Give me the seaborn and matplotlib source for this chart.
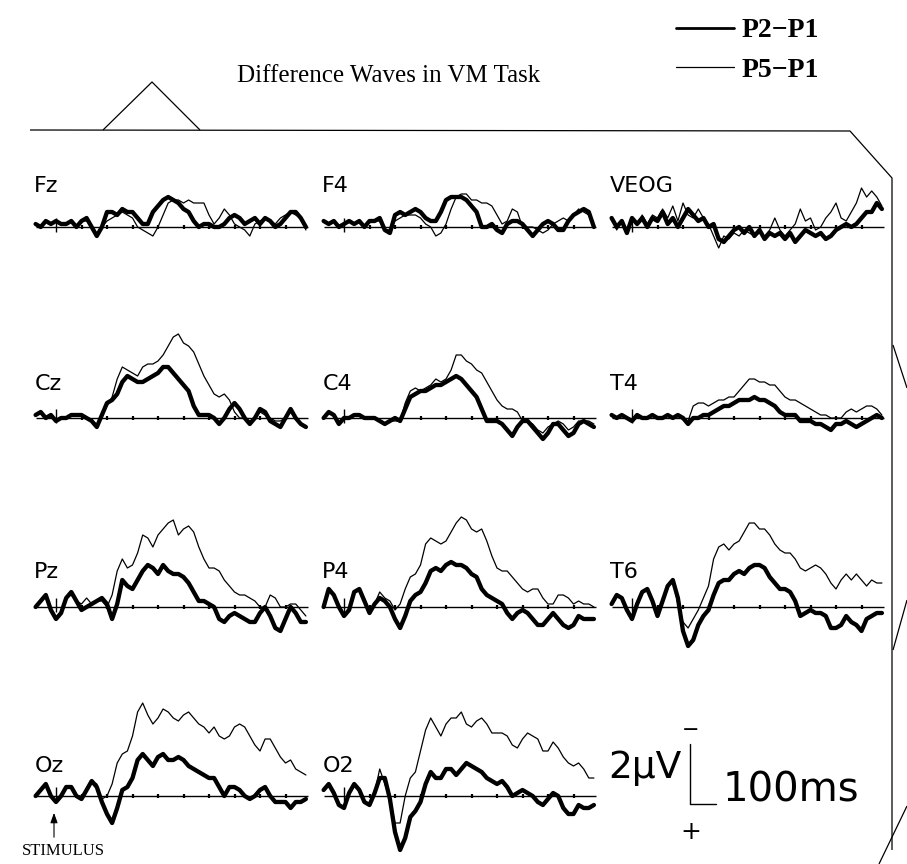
import numpy as np
import pandas as pd
import matplotlib
matplotlib.use("Agg")
import matplotlib.pyplot as plt
import seaborn as sns
from matplotlib.lines import Line2D

# ---------------- data (µV, negative plotted upward) ----------------
times = list(range(-80, 981, 20))          # ms, 54 samples
tick_times = [100, 200, 300, 400, 500, 600, 700, 800, 900]
channels = [["Fz", "F4", "VEOG"], ["Cz", "C4", "T4"], ["Pz", "P4", "T6"], ["Oz", "O2", None]]
series_names = ["P2\u2212P1", "P5\u2212P1"]

fz_p2 = [-0.1, 0.0, -0.2, -0.1, -0.2, -0.1, -0.1, -0.2, 0.0, -0.2,
         -0.3, 0.0, 0.3, 0.0, -0.5, -0.5, -0.4, -0.6, -0.5, -0.5,
         -0.3, -0.1, -0.1, -0.5, -0.7, -0.9, -1.0, -0.9, -0.8, -0.6,
         -0.5, -0.2, 0.0, -0.1, -0.1, 0.0, 0.0, -0.1, -0.3, -0.4,
         -0.3, -0.1, -0.2, -0.3, -0.1, -0.3, -0.2, 0.0, -0.1, -0.3,
         -0.5, -0.5, -0.3, 0.0]
fz_p5 = [-0.1, 0.0, -0.2, -0.1, -0.2, -0.1, -0.1, -0.2, 0.0, -0.2,
         -0.2, 0.0, 0.2, 0.0, -0.2, -0.3, -0.4, -0.5, -0.4, -0.3,
         0.0, 0.1, 0.2, 0.3, 0.0, -0.4, -0.8, -0.9, -0.9, -0.8,
         -0.9, -0.8, -0.8, -0.8, -0.4, -0.1, -0.3, -0.6, -0.4, -0.1,
         0.0, 0.1, 0.3, -0.1, -0.2, -0.3, -0.2, -0.1, -0.3, -0.4,
         -0.5, -0.4, -0.3, 0.1]

f4_p2 = [-0.2, -0.1, -0.2, 0.0, -0.1, -0.2, -0.1, -0.2, 0.0, -0.2,
         -0.2, -0.3, 0.1, 0.2, -0.4, -0.5, -0.4, -0.5, -0.6, -0.5,
         -0.3, -0.2, -0.2, -0.5, -0.9, -1.0, -1.0, -1.0, -0.9, -0.7,
         -0.5, 0.0, 0.0, -0.1, 0.1, 0.2, -0.1, -0.2, -0.2, -0.1,
         0.1, 0.3, 0.1, -0.1, -0.2, -0.1, 0.1, 0.1, -0.2, -0.4,
         -0.5, -0.6, -0.5, 0.0]
f4_p5 = [-0.2, -0.1, -0.2, 0.0, -0.1, -0.2, -0.1, -0.2, 0.0, -0.2,
         -0.2, -0.2, 0.1, 0.1, -0.2, -0.3, -0.4, -0.4, -0.4, -0.3,
         -0.1, 0.0, 0.3, 0.2, -0.1, -0.6, -1.0, -1.1, -1.1, -0.9,
         -0.9, -0.8, -0.8, -0.7, -0.4, -0.1, -0.2, -0.6, -0.5, 0.0,
         0.0, 0.0, 0.1, 0.2, 0.1, -0.1, -0.2, -0.3, -0.2, -0.4,
         -0.6, -0.5, -0.4, 0.0]

veog_p2 = [-0.3, 0.0, -0.2, 0.2, -0.3, -0.1, -0.3, 0.0, -0.3, -0.2,
           -0.5, -0.1, -0.3, 0.0, -0.3, -0.6, -0.4, -0.2, -0.3, 0.0,
           -0.1, 0.4, 0.5, 0.3, 0.1, 0.0, 0.2, 0.0, 0.3, 0.1,
           0.4, 0.2, 0.3, 0.2, 0.4, 0.2, 0.5, 0.3, 0.1, 0.2,
           0.3, 0.2, 0.4, 0.3, 0.1, 0.0, -0.1, 0.0, -0.1, -0.3,
           -0.5, -0.5, -0.8, -0.6]
veog_p5 = [-0.3, 0.1, -0.2, 0.2, -0.3, -0.1, -0.4, -0.1, -0.4, -0.3,
           -0.6, -0.3, -0.7, -0.2, -0.8, -0.4, -0.3, -0.6, -0.3, -0.1,
           0.3, 0.7, 0.3, 0.4, 0.2, 0.3, 0.1, 0.2, 0.3, 0.2,
           0.3, 0.1, -0.3, 0.1, 0.3, 0.1, -0.1, -0.6, -0.2, -0.3,
           0.1, 0.0, -0.3, -0.5, -0.8, -0.3, -0.2, -0.5, -0.8, -1.3,
           -1.0, -1.2, -1.0, -0.7]

cz_p2 = [-0.1, -0.2, 0.0, -0.1, 0.1, 0.0, 0.0, -0.1, -0.1, -0.1,
         0.0, 0.1, 0.3, -0.1, -0.5, -0.6, -0.8, -1.2, -1.4, -1.3,
         -1.2, -1.2, -1.3, -1.4, -1.5, -1.7, -1.7, -1.5, -1.3, -1.1,
         -0.9, -0.4, -0.1, -0.1, -0.1, 0.0, 0.2, 0.0, -0.3, -0.5,
         -0.3, 0.0, 0.2, 0.0, -0.3, -0.2, 0.1, 0.2, 0.3, 0.0,
         -0.3, 0.0, 0.2, 0.3]
cz_p5 = [-0.1, -0.2, 0.0, -0.1, 0.1, 0.0, 0.0, -0.1, -0.1, -0.1,
         0.0, 0.1, 0.2, -0.1, -0.4, -0.7, -1.3, -1.7, -1.6, -1.5,
         -1.4, -1.7, -1.8, -1.8, -1.9, -2.1, -2.4, -2.7, -2.8, -2.5,
         -2.4, -2.2, -1.8, -1.4, -1.1, -0.8, -0.7, -0.8, -0.6, -0.2,
         0.0, 0.0, 0.1, 0.0, -0.2, -0.1, 0.0, 0.1, 0.1, 0.0,
         -0.2, 0.0, 0.2, 0.3]

c4_p2 = [0.0, -0.2, -0.1, 0.2, 0.0, 0.0, -0.1, -0.1, 0.0, 0.0,
         0.0, 0.1, 0.2, 0.1, 0.0, 0.1, -0.3, -0.7, -0.8, -0.9,
         -0.9, -1.0, -1.1, -1.1, -1.2, -1.3, -1.4, -1.3, -1.1, -0.9,
         -0.7, -0.3, 0.1, 0.1, 0.1, 0.2, 0.4, 0.6, 0.3, 0.1,
         0.1, 0.3, 0.5, 0.7, 0.5, 0.2, 0.2, 0.4, 0.6, 0.5,
         0.2, 0.1, 0.2, 0.3]
c4_p5 = [0.0, -0.2, -0.1, 0.2, 0.0, 0.0, -0.1, -0.1, 0.0, 0.0,
         0.0, 0.1, 0.2, 0.1, 0.1, 0.1, -0.5, -0.9, -1.0, -0.9,
         -1.0, -1.1, -1.3, -1.2, -1.3, -1.6, -2.1, -2.1, -1.9, -1.8,
         -1.6, -1.5, -1.2, -0.9, -0.6, -0.4, -0.3, -0.3, -0.2, 0.1,
         0.1, 0.2, 0.4, 0.5, 0.3, 0.2, 0.1, 0.2, 0.4, 0.3,
         0.1, 0.1, 0.1, 0.2]

t4_p2 = [-0.1, 0.0, -0.1, 0.0, 0.1, -0.1, 0.0, 0.0, -0.1, 0.0,
         0.0, -0.1, 0.0, -0.1, 0.0, 0.2, 0.0, 0.0, -0.1, -0.1,
         -0.2, -0.3, -0.4, -0.4, -0.5, -0.6, -0.6, -0.6, -0.7, -0.6,
         -0.6, -0.5, -0.4, -0.2, -0.1, -0.1, -0.1, 0.1, 0.1, 0.1,
         0.2, 0.2, 0.3, 0.4, 0.2, 0.2, 0.1, 0.2, 0.3, 0.2,
         0.1, 0.0, -0.1, 0.0]
t4_p5 = [-0.1, 0.0, -0.1, 0.0, 0.1, -0.1, 0.0, 0.0, -0.1, 0.0,
         0.0, -0.1, 0.0, -0.1, 0.0, 0.1, -0.4, -0.5, -0.5, -0.4,
         -0.5, -0.6, -0.6, -0.7, -0.7, -0.9, -1.1, -1.3, -1.3, -1.2,
         -1.2, -1.1, -1.1, -0.9, -0.7, -0.6, -0.6, -0.5, -0.4, -0.3,
         -0.2, -0.1, -0.1, 0.0, 0.0, 0.0, -0.2, -0.3, -0.2, -0.3,
         -0.4, -0.4, -0.3, -0.1]

pz_p2 = [0.0, -0.2, -0.4, 0.1, 0.4, 0.2, -0.3, -0.5, -0.2, 0.1,
         0.0, -0.1, -0.2, -0.3, -0.1, 0.4, -0.1, -0.9, -0.7, -0.6,
         -0.9, -1.2, -1.4, -1.3, -1.1, -1.4, -1.2, -1.1, -1.1, -1.0,
         -0.8, -0.5, -0.2, -0.2, -0.1, 0.0, 0.4, 0.5, 0.3, 0.2,
         0.3, 0.4, 0.5, 0.5, 0.2, 0.0, 0.3, 0.7, 0.8, 0.4,
         0.0, 0.2, 0.5, 0.5]
pz_p5 = [0.0, -0.2, -0.4, 0.1, 0.4, 0.2, -0.3, -0.4, -0.2, -0.1,
         -0.3, -0.1, -0.2, -0.2, 0.0, -0.4, -1.2, -1.6, -1.3, -1.4,
         -1.8, -2.4, -2.3, -2.0, -2.4, -2.6, -2.8, -2.9, -2.4, -2.6,
         -2.7, -2.5, -2.0, -1.6, -1.3, -1.3, -1.2, -0.9, -0.7, -0.5,
         -0.4, -0.4, -0.3, -0.2, 0.0, 0.0, -0.4, -0.3, 0.0, 0.0,
         -0.1, -0.1, 0.1, 0.3]

p4_p2 = [0.0, -0.6, -0.4, 0.0, 0.3, 0.1, -0.5, -0.6, -0.2, 0.2,
         -0.1, -0.3, -0.2, 0.0, 0.4, 0.7, 0.3, -0.2, -0.4, -0.5,
         -0.8, -1.2, -1.3, -1.2, -1.4, -1.5, -1.4, -1.4, -1.3, -1.1,
         -1.0, -0.6, -0.4, -0.3, -0.2, -0.1, 0.2, 0.4, 0.2, 0.1,
         0.2, 0.4, 0.6, 0.6, 0.4, 0.2, 0.4, 0.6, 0.7, 0.6,
         0.3, 0.4, 0.4, 0.4]
p4_p5 = [0.0, -0.6, -0.4, 0.0, 0.3, 0.1, -0.5, -0.6, -0.2, 0.2,
         -0.1, -0.5, -0.3, -0.2, 0.1, -0.1, -0.6, -1.0, -1.1, -1.4,
         -2.1, -2.3, -2.2, -2.1, -2.2, -2.5, -2.8, -3.0, -2.9, -2.6,
         -2.5, -2.6, -2.2, -1.7, -1.3, -1.2, -1.2, -1.0, -0.8, -0.6,
         -0.5, -0.6, -0.6, -0.3, -0.1, -0.1, -0.4, -0.4, -0.3, -0.1,
         -0.2, -0.1, -0.1, 0.0]

t6_p2 = [-0.1, -0.4, -0.3, 0.1, 0.4, -0.1, -0.5, -0.6, -0.2, 0.3,
         -0.2, -0.7, -0.9, -0.3, 0.8, 1.3, 1.1, 0.6, 0.3, 0.1,
         -0.4, -0.8, -0.9, -0.9, -1.1, -1.2, -1.1, -1.3, -1.4, -1.4,
         -1.3, -1.0, -0.8, -0.6, -0.6, -0.5, -0.2, 0.3, 0.2, 0.1,
         0.2, 0.2, 0.3, 0.7, 0.7, 0.6, 0.3, 0.5, 0.6, 0.8,
         0.4, 0.3, 0.2, 0.2]
t6_p5 = [-0.1, -0.4, -0.3, 0.1, 0.4, -0.1, -0.5, -0.6, -0.2, 0.3,
         -0.2, -0.7, -0.9, -0.1, 0.5, 0.7, 0.4, 0.1, -0.3, -0.7,
         -1.6, -2.0, -2.1, -1.9, -2.1, -2.2, -2.5, -2.8, -2.8, -2.6,
         -2.6, -2.4, -2.1, -1.9, -1.8, -1.8, -1.6, -1.3, -1.2, -1.3,
         -1.4, -1.3, -1.1, -0.8, -0.6, -0.9, -1.1, -0.9, -1.1, -0.9,
         -0.7, -0.9, -0.8, -0.8]

oz_p2 = [0.0, -0.2, -0.4, 0.0, 0.2, 0.0, -0.3, -0.3, 0.0, 0.1,
         -0.2, -0.5, -0.3, 0.2, 0.6, 0.9, 0.4, -0.2, -0.3, -0.6,
         -1.2, -1.4, -1.2, -1.0, -1.3, -1.4, -1.2, -1.2, -1.3, -1.2,
         -1.0, -0.9, -0.8, -0.7, -0.6, -0.6, -0.3, 0.0, -0.3, -0.3,
         -0.2, 0.0, 0.1, 0.0, -0.2, -0.3, 0.0, 0.2, 0.2, 0.2,
         0.4, 0.2, 0.2, 0.1]
oz_p5 = [0.0, -0.2, -0.4, 0.0, 0.2, 0.0, -0.3, -0.3, 0.0, 0.0,
         -0.2, -0.5, -0.4, 0.1, 0.0, -0.4, -1.1, -1.4, -1.5, -2.0,
         -2.8, -3.1, -2.7, -2.4, -2.6, -2.9, -2.8, -2.6, -2.5, -2.7,
         -2.8, -2.6, -2.4, -2.3, -2.1, -2.3, -2.0, -1.9, -2.0, -2.3,
         -2.4, -2.3, -2.0, -1.7, -1.5, -1.9, -1.9, -1.6, -1.3, -1.1,
         -1.2, -0.9, -0.8, -0.7]

o2_p2 = [-0.2, -0.4, -0.1, 0.3, 0.4, -0.1, -0.4, -0.2, 0.2, 0.3,
         -0.1, -0.6, -0.6, 0.1, 1.2, 1.8, 1.4, 0.7, 0.5, 0.2,
         -0.4, -0.8, -0.6, -0.6, -0.9, -0.9, -0.7, -0.9, -1.1, -1.0,
         -0.9, -0.8, -0.6, -0.5, -0.4, -0.5, -0.3, 0.0, -0.1, -0.2,
         -0.1, 0.0, 0.2, 0.3, 0.1, -0.1, 0.0, 0.4, 0.6, 0.6,
         0.3, 0.4, 0.4, 0.3]
o2_p5 = [-0.2, -0.4, -0.1, 0.3, 0.4, -0.1, -0.4, -0.2, 0.2, 0.3,
         -0.1, -0.9, -0.4, 0.1, 0.9, 0.9, 0.0, -0.6, -0.8, -1.5,
         -2.2, -2.6, -2.3, -2.0, -2.4, -2.6, -2.6, -2.8, -2.4, -2.3,
         -2.5, -2.6, -2.4, -2.1, -2.1, -2.1, -2.0, -1.7, -1.6, -1.9,
         -2.1, -2.0, -1.9, -1.5, -1.5, -1.8, -1.6, -1.3, -1.1, -1.0,
         -1.1, -0.9, -0.6, -0.6]

waves = {
    "Fz": (fz_p2, fz_p5), "F4": (f4_p2, f4_p5), "VEOG": (veog_p2, veog_p5),
    "Cz": (cz_p2, cz_p5), "C4": (c4_p2, c4_p5), "T4": (t4_p2, t4_p5),
    "Pz": (pz_p2, pz_p5), "P4": (p4_p2, p4_p5), "T6": (t6_p2, t6_p5),
    "Oz": (oz_p2, oz_p5), "O2": (o2_p2, o2_p5),
}

# ---------------- style ----------------
sns.set_theme(style="white")
plt.rcParams["font.family"] = ["DejaVu Sans"]
plt.rcParams["text.color"] = "black"

W, H = 907, 864
fig = plt.figure(figsize=(W / 100, H / 100), dpi=100)
fig.patch.set_facecolor("white")

# geometry (pixels)
PX_MS = 0.255
PX_UV = 30.0
XMIN, XMAX = -100, 1000
YTOP, YBOT = -3.6, 2.2
col_stim_x = [56, 344, 632]
row_base_y = [227, 418, 607, 796]
label_off = [-1.35, -1.15, -1.15, -1.0]

# decoration overlay in pixel coordinates
deco = fig.add_axes([0, 0, 1, 1])
deco.set_xlim(0, W)
deco.set_ylim(H, 0)
deco.axis("off")
lk = dict(color="black", lw=0.9, solid_capstyle="butt")
deco.plot([30, 850, 892, 892], [130, 131, 178, 850], **lk)
deco.plot([103, 152, 200], [130, 82, 130], **lk)
deco.plot([893, 907], [345, 388], **lk)
deco.plot([907, 893], [600, 650], **lk)
deco.plot([907, 879], [806, 864], **lk)
deco.text(22, 851, "STIMULUS", family="Liberation Serif", fontsize=12,
          ha="left", va="center", color="black")
deco.annotate("", xy=(54, 810), xytext=(54, 840),
              arrowprops=dict(arrowstyle="-|>,head_length=0.5,head_width=0.18",
                              color="black", lw=0.8))

fig.text(389 / W, 1 - 76 / H, "Difference Waves in VM Task",
         family="Liberation Serif", fontsize=18, ha="center", va="center",
         color="black")

for r, row in enumerate(channels):
    for c, ch in enumerate(row):
        sx, by = col_stim_x[c], row_base_y[r]
        left = sx + XMIN * PX_MS
        width = (XMAX - XMIN) * PX_MS
        top = by + YTOP * PX_UV
        height = (YBOT - YTOP) * PX_UV
        ax = fig.add_axes([left / W, 1 - (top + height) / H, width / W, height / H])
        ax.set_xlim(XMIN, XMAX)
        ax.set_ylim(YBOT, YTOP)
        ax.axis("off")
        if ch is None:
            # calibration bar: 2 µV by 100 ms
            ax.plot([228, 228, 328], [0.25 - 2.0, 0.25, 0.25], color="black", lw=1.0)
            ax.text(228, -2.2, "\u2212", fontsize=15, ha="center", va="center")
            ax.text(232, 1.2, "+", fontsize=18, ha="center", va="center")
            ax.text(195, -0.95, "2\u00b5V", fontsize=27, ha="right", va="center")
            ax.text(355, -0.2, "100ms", fontsize=29, ha="left", va="center")
            continue
        p2, p5 = waves[ch]
        ax.hlines(0, times[0], times[-1] + 10, color="black", lw=1.0)
        ax.vlines(tick_times, -0.08, 0.08, color="black", lw=1.6)
        ax.vlines([0], -0.3, 0.15, color="black", lw=1.0)
        df = pd.DataFrame({"t": times, "P5": p5, "P2": p2})
        sns.lineplot(data=df, x="t", y="P5", ax=ax, color="black", lw=0.9,
                     estimator=None, sort=False)
        sns.lineplot(data=df, x="t", y="P2", ax=ax, color="black", lw=3.1,
                     estimator=None, sort=False)
        for ln in ax.lines:
            ln.set_solid_joinstyle("round")
            ln.set_clip_on(False)
        ax.text(-85, label_off[r], ch, fontsize=16, ha="left", va="center")
        ax.set_xlabel("")
        ax.set_ylabel("")

leg_handles = [Line2D([], [], color="black", lw=2.0), Line2D([], [], color="black", lw=0.9)]
fig.legend(leg_handles, series_names, loc="upper left",
           bbox_to_anchor=(676 / W, 1 - 18 / H), frameon=False,
           prop=dict(family="Liberation Serif", weight="bold", size=20),
           handlelength=2.1, handletextpad=0.25, labelspacing=0.5,
           borderpad=0, borderaxespad=0, labelcolor="black")

fig.savefig("out.png", dpi=100)
